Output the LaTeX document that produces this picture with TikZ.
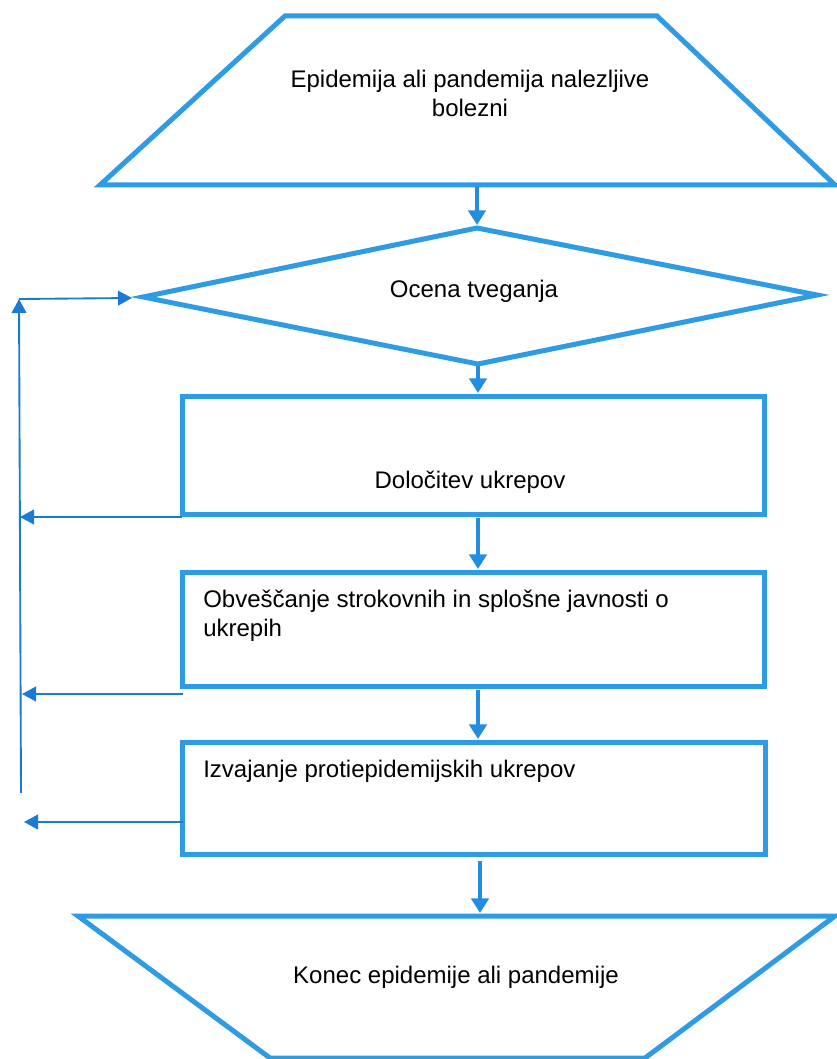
\documentclass[tikz,border=0pt]{standalone}
\usepackage{fontspec}
\setmainfont{Liberation Sans}
\usetikzlibrary{arrows.meta}
\definecolor{shapeblue}{RGB}{46,155,228}
\definecolor{flowblue}{RGB}{36,142,222}
\definecolor{linkblue}{RGB}{26,122,212}
\begin{document}
\begin{tikzpicture}[x=0.75pt,y=-0.75pt,
  outline/.style={draw=shapeblue,line width=3.75pt,line join=miter},
  flow/.style={draw=flowblue,line width=3pt,-{Triangle[width=13pt,length=11pt]}},
  back/.style={draw=linkblue,line width=1.4pt},
  backarrow/.style={back,-{Triangle[width=11pt,length=10.5pt]}},
  lbl/.style={font=\fontsize{18}{22}\selectfont,inner sep=0pt,anchor=base},
  lblw/.style={lbl,anchor=base west}]
\useasboundingbox (0,0) rectangle (837,1059);

% start trapezoid
\draw[outline] (285,16) -- (657,16) -- (835,185) -- (100,185) -- cycle;
\node[lbl] (start1) at (470,88) {Epidemija ali pandemija nalezljive};
\node[lbl] (start2) at (470,117) {bolezni};
\coordinate (startS) at (477,187);

% decision
\draw[outline] (477,228) -- (817,295) -- (478,364) -- (143,297) -- cycle;
\node[lbl] (risk) at (474,297) {Ocena tveganja};
\coordinate (dN) at (477,225);
\coordinate (dS) at (478,366);
\coordinate (dW) at (132,298);

% step 1
\draw[outline] (182,396) rectangle (764,514);
\node[lbl] (measures) at (470,488) {Določitev ukrepov};
\coordinate (r1N) at (478,393);
\coordinate (r1S) at (478,518);
\coordinate (r1W) at (182,517);

% step 2
\draw[outline] (182,572) rectangle (764,686);
\node[lblw] (inform1) at (203,607) {Obveščanje strokovnih in splošne javnosti o};
\node[lblw] (inform2) at (203,636) {ukrepih};
\coordinate (r2N) at (478,569);
\coordinate (r2S) at (478,690);
\coordinate (r2W) at (183,694);

% step 3
\draw[outline] (182,742) rectangle (765,854);
\node[lblw] (perform) at (203,777) {Izvajanje protiepidemijskih ukrepov};
\coordinate (r3N) at (478,739);
\coordinate (r3S) at (480,861);
\coordinate (r3W) at (183,822);

% end trapezoid
\draw[outline] (78,916) -- (835,916) -- (645,1058) -- (270,1058) -- cycle;
\node[lbl] (finish) at (456,983) {Konec epidemije ali pandemije};
\coordinate (eN) at (480,913);

% main flow
\draw[flow] (startS) -- (dN);
\draw[flow] (dS) -- (r1N);
\draw[flow] (r1S) -- (r2N);
\draw[flow] (r2S) -- (r3N);
\draw[flow] (r3S) -- (eN);

% feedback
\coordinate (fbTop) at (19,299);
\coordinate (fbBot) at (21,793);
\coordinate (fb1) at (20,517);
\coordinate (fb2) at (22,694);
\coordinate (fb3) at (24,822);
\draw[backarrow] (fbBot) -- (fbTop);
\draw[backarrow] (fbTop) -- (dW);
\draw[backarrow] (r1W) -- (fb1);
\draw[backarrow] (r2W) -- (fb2);
\draw[backarrow] (r3W) -- (fb3);
\end{tikzpicture}
\end{document}
